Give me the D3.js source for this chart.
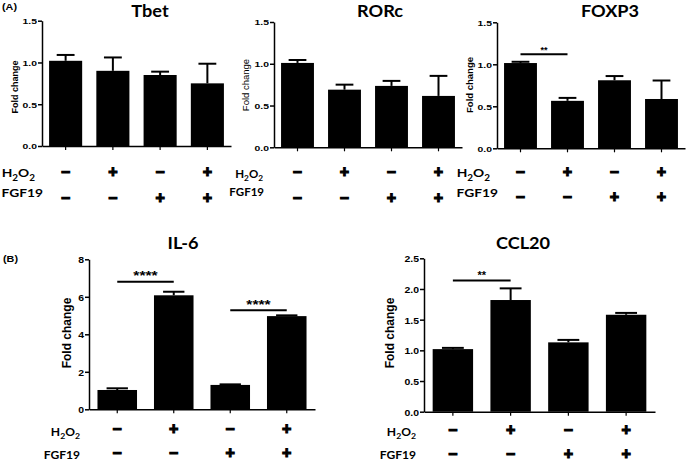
<!DOCTYPE html>
<html><head><meta charset="utf-8">
<script src="https://cdn.jsdelivr.net/npm/d3@7"></script>
<style>body{margin:0;background:#fff} svg{display:block}</style>
</head><body><svg id="c" width="687" height="462"></svg>
<script>
// ---------- data ----------
const conditions = ["c1", "c2", "c3", "c4"];
const h2o2Signs = ["–", "+", "–", "+"];
const fgf19Signs = ["–", "–", "+", "+"];

const tbetMean  = [1.02, 0.90, 0.85, 0.75];
const tbetSem   = [0.07, 0.16, 0.04, 0.235];
const rorcMean  = [1.01, 0.69, 0.735, 0.615];
const rorcSem   = [0.035, 0.06, 0.06, 0.24];
const foxp3Mean = [1.015, 0.565, 0.81, 0.587];
const foxp3Sem  = [0.015, 0.035, 0.05, 0.22];
const il6Mean   = [1.03, 6.08, 1.30, 4.97];
const il6Sem    = [0.09, 0.19, 0.03, 0.04];
const ccl20Mean = [1.02, 1.82, 1.13, 1.58];
const ccl20Sem  = [0.02, 0.19, 0.04, 0.03];

const ticksA     = [0, 0.5, 1.0, 1.5];
const ticksIL6   = [0, 2, 4, 6, 8];
const ticksCCL20 = [0, 0.5, 1.0, 1.5, 2.0, 2.5];

const foxp3Sig = [{a: 0, b: 1, level: 1.12, label: "**"}];
const il6Sig   = [{a: 0, b: 1, level: 6.8, label: "****"}, {a: 2, b: 3, level: 5.28, label: "****"}];
const ccl20Sig = [{a: 0, b: 1, level: 2.14, label: "**"}];

const yLabel = "Fold change";
const rowLabels = ["H2O2", "FGF19"];

// ---------- drawing ----------
const svg = d3.select("#c");
const SANS = "'Liberation Sans', Arial, sans-serif";
const CAL = "Lato, 'Open Sans', sans-serif";

function stext(g, x, y, str, o) {
  const t = g.append("text")
    .attr("transform", `translate(${x},${y}) scale(${o.sx || 1},1)` + (o.rot ? ` rotate(${o.rot})` : ""))
    .attr("text-anchor", o.anchor || "middle")
    .attr("font-family", o.family || SANS)
    .attr("font-weight", o.weight || "bold")
    .attr("font-size", o.size)
    .attr("fill", "#000")
    .text(str);
  if (o.dy) t.attr("dy", o.dy);
  if (o.stroke) t.attr("stroke", "#000").attr("stroke-width", o.stroke);
  return t;
}

function h2o2(g, x, y, o) {
  const t = g.append("text")
    .attr("transform", `translate(${x},${y}) scale(${o.sx},1)`)
    .attr("text-anchor", "end")
    .attr("font-family", CAL).attr("font-weight", "bold")
    .attr("font-size", o.size).attr("fill", "#000");
  t.append("tspan").text("H");
  t.append("tspan").attr("font-size", o.size * 0.72).attr("dy", o.size * 0.3).text("2");
  t.append("tspan").attr("dy", -o.size * 0.3).text("O");
  t.append("tspan").attr("font-size", o.size * 0.72).attr("dy", o.size * 0.3).text("2");
}

function panel(p) {
  const g = svg.append("g");
  const x = d3.scaleBand().domain(conditions).range(p.xr).paddingInner(0.3).paddingOuter(0.15);
  const y = d3.scaleLinear().domain([0, p.ymax]).range(p.yr);
  const bw = x.bandwidth();
  const cx = i => x(conditions[i]) + bw / 2;

  // bars
  g.selectAll("rect.bar").data(p.mean).join("rect")
    .attr("x", (d, i) => x(conditions[i]))
    .attr("y", d => y(d))
    .attr("width", bw)
    .attr("height", d => y(0) - y(d))
    .attr("fill", "#000");
  // error bars (upper only)
  p.mean.forEach((m, i) => {
    const top = y(m + p.sem[i]);
    g.append("line").attr("x1", cx(i)).attr("x2", cx(i)).attr("y1", y(m)).attr("y2", top)
      .attr("stroke", "#000").attr("stroke-width", 2);
    g.append("line").attr("x1", cx(i) - bw * 0.27).attr("x2", cx(i) + bw * 0.27).attr("y1", top).attr("y2", top)
      .attr("stroke", "#000").attr("stroke-width", 2);
  });

  // y axis
  const ya = g.append("g").attr("transform", `translate(${p.xr[0]},0)`)
    .call(d3.axisLeft(y).tickValues(p.ticks).tickFormat(p.fmt).tickSize(4).tickSizeOuter(0));
  ya.select(".domain").attr("stroke", "#000").attr("stroke-width", 1.5);
  ya.selectAll(".tick line").attr("stroke", "#000").attr("stroke-width", 1.5);
  ya.selectAll(".tick text")
    .attr("x", -5 / p.tsx).attr("dy", "0.36em")
    .attr("transform", `scale(${p.tsx},1)`)
    .attr("font-family", SANS).attr("font-weight", "bold").attr("font-size", p.tsize).attr("fill", "#000");

  // x axis
  const xa = g.append("g").attr("transform", `translate(0,${p.yr[0]})`)
    .call(d3.axisBottom(x).tickFormat("").tickSize(4).tickSizeOuter(0));
  xa.select(".domain").attr("stroke", "#000").attr("stroke-width", 1.5);
  xa.selectAll(".tick line").attr("stroke", "#000").attr("stroke-width", 1.2);

  // title
  stext(g, p.titleX, p.titleY, p.title, {size: p.titleSize, family: CAL, sx: 1.1});
  // y label
  stext(g, p.ylx, p.yly, yLabel, {size: p.ylsize, rot: -90, dy: "0.35em", weight: p.ylweight || "bold"});

  // significance
  (p.sig || []).forEach(s => {
    const ly = y(s.level);
    g.append("line").attr("x1", cx(s.a)).attr("x2", cx(s.b)).attr("y1", ly).attr("y2", ly)
      .attr("stroke", "#000").attr("stroke-width", 2);
    stext(g, (cx(s.a) + cx(s.b)) / 2, ly - 1.5, s.label, {size: p.starSize, sx: p.starSx || 1});
  });

  // condition table
  h2o2Signs.forEach((s, i) => stext(g, cx(i), p.row1, s, {size: p.signSize, stroke: 1.1}));
  fgf19Signs.forEach((s, i) => stext(g, cx(i), p.row2, s, {size: p.signSize, stroke: 1.1}));
  h2o2(g, p.lab1X, p.lab1Y, {size: p.labSize, sx: p.labSx});
  stext(g, p.lab2X, p.lab2Y, rowLabels[1], {size: p.labSize, family: CAL, anchor: "end", sx: p.labSx});
}

const fmtA = d3.format(".1f");
const fmtInt = d3.format("d");

panel({title: "Tbet", mean: tbetMean, sem: tbetSem, ticks: ticksA, fmt: fmtA, ymax: 1.5,
  xr: [42, 231], yr: [146, 20.7], tsize: 8, tsx: 1.3, titleX: 150, titleY: 16.5, titleSize: 16.5,
  ylx: 15, yly: 87, ylsize: 9, row1: 177, row2: 203, signSize: 16,
  lab1X: 35, lab1Y: 177, lab2X: 43, lab2Y: 197, labSize: 12, labSx: 1.15});
panel({title: "RORc", mean: rorcMean, sem: rorcSem, ticks: ticksA, fmt: fmtA, ymax: 1.5,
  xr: [274, 462], yr: [147.3, 22], tsize: 8, tsx: 1.3, titleX: 380, titleY: 16.5, titleSize: 16.5,
  ylx: 246, yly: 85, ylsize: 9.5, ylweight: "normal", row1: 177, row2: 203, signSize: 16,
  lab1X: 263, lab1Y: 178, lab2X: 264, lab2Y: 196, labSize: 11.5, labSx: 1.0});
panel({title: "FOXP3", mean: foxp3Mean, sem: foxp3Sem, ticks: ticksA, fmt: fmtA, ymax: 1.5,
  xr: [497, 685], yr: [148.3, 22.3], tsize: 8, tsx: 1.3, titleX: 610, titleY: 16.5, titleSize: 16.5,
  ylx: 470, yly: 85, ylsize: 9.5, row1: 176.5, row2: 202, signSize: 16,
  lab1X: 490, lab1Y: 177, lab2X: 498, lab2Y: 197, labSize: 12, labSx: 1.15,
  sig: foxp3Sig, starSize: 9});
panel({title: "IL-6", mean: il6Mean, sem: il6Sem, ticks: ticksIL6, fmt: fmtInt, ymax: 8,
  xr: [89, 315], yr: [409.3, 259.3], tsize: 9.5, tsx: 1.1, titleX: 183, titleY: 249, titleSize: 16.5,
  ylx: 67, yly: 333, ylsize: 12, row1: 434, row2: 458, signSize: 16,
  lab1X: 80, lab1Y: 436, lab2X: 80, lab2Y: 458.5, labSize: 11.5, labSx: 1.05,
  sig: il6Sig, starSize: 12, starSx: 1.3});
panel({title: "CCL20", mean: ccl20Mean, sem: ccl20Sem, ticks: ticksCCL20, fmt: fmtA, ymax: 2.5,
  xr: [424, 655], yr: [411.7, 258.3], tsize: 9.5, tsx: 1.1, titleX: 523, titleY: 248.5, titleSize: 16.5,
  ylx: 390, yly: 333, ylsize: 12, row1: 435, row2: 459, signSize: 16,
  lab1X: 416, lab1Y: 436, lab2X: 416, lab2Y: 458.5, labSize: 11.5, labSx: 1.05,
  sig: ccl20Sig, starSize: 11});

// panel letters
stext(svg, 2, 10, "(A)", {size: 9, anchor: "start", sx: 1.2});
stext(svg, 3, 262, "(B)", {size: 9, anchor: "start", sx: 1.2});
</script></body></html>
